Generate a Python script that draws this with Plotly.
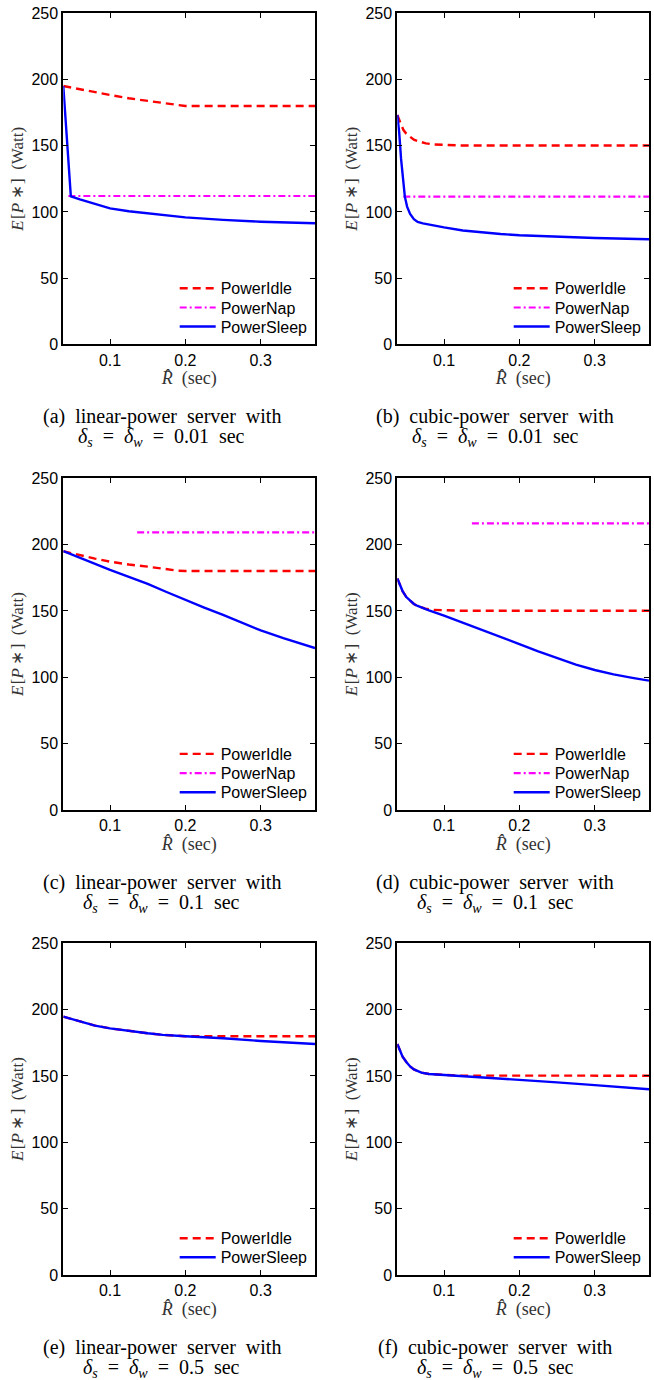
import plotly.graph_objects as go

# ---------------- data ----------------
# (a) linear-power, delta = 0.01 sec
a_idle_x = [0.038, 0.06, 0.08, 0.1, 0.125, 0.15, 0.17, 0.19, 0.2, 0.372]
a_idle_y = [195.1, 192.5, 190.2, 188.3, 185.8, 183.8, 182.0, 180.5, 180.0, 180.0]
a_nap_x = [0.0447, 0.372]
a_nap_y = [112.0, 112.0]
a_sleep_x = [0.038, 0.048, 0.06, 0.08, 0.1, 0.125, 0.15, 0.175, 0.2, 0.25, 0.3, 0.372]
a_sleep_y = [195.1, 111.8, 109.5, 106.0, 102.7, 100.5, 98.9, 97.2, 95.9, 94.0, 92.6, 91.4]

# (b) cubic-power, delta = 0.01 sec
b_idle_x = [0.038, 0.042, 0.046, 0.05, 0.055, 0.06, 0.068, 0.076, 0.086, 0.1, 0.12, 0.372]
b_idle_y = [173.2, 167.0, 162.0, 159.0, 156.5, 154.5, 153.0, 151.8, 151.0, 150.5, 150.2, 150.1]
b_nap_x = [0.046, 0.372]
b_nap_y = [111.5, 111.5]
b_sleep_x = [0.038, 0.0405, 0.043, 0.046, 0.048, 0.051, 0.055, 0.06, 0.065, 0.072, 0.085,
             0.1, 0.125, 0.15, 0.175, 0.2, 0.25, 0.3, 0.372]
b_sleep_y = [173.2, 160.0, 140.0, 120.0, 111.5, 104.0, 98.5, 94.5, 92.4, 91.3, 89.8,
             88.3, 86.0, 84.5, 83.3, 82.4, 81.2, 80.3, 79.3]

# (c) linear-power, delta = 0.1 sec
c_idle_x = [0.038, 0.06, 0.08, 0.1, 0.125, 0.15, 0.17, 0.19, 0.2, 0.372]
c_idle_y = [195.0, 192.0, 189.5, 187.2, 185.0, 183.4, 181.8, 180.4, 180.1, 180.1]
c_nap_x = [0.136, 0.372]
c_nap_y = [209.3, 209.3]
c_sleep_x = [0.038, 0.06, 0.08, 0.1, 0.125, 0.15, 0.175, 0.2, 0.225, 0.25, 0.275, 0.3, 0.33, 0.35, 0.372]
c_sleep_y = [195.2, 190.0, 185.5, 181.0, 175.7, 170.4, 164.3, 158.3, 152.6, 147.0, 141.0, 135.3, 129.5, 125.8, 122.0]

# (d) cubic-power, delta = 0.1 sec
d_idle_x = [0.038, 0.042, 0.045, 0.05, 0.055, 0.06, 0.065, 0.07, 0.075, 0.085, 0.1, 0.12, 0.372]
d_idle_y = [174.6, 169.0, 165.0, 160.5, 157.5, 155.3, 153.8, 152.6, 151.7, 150.9, 150.4, 150.2, 150.2]
d_nap_x = [0.137, 0.372]
d_nap_y = [216.1, 216.1]
d_sleep_x = [0.038, 0.042, 0.045, 0.05, 0.055, 0.06, 0.065, 0.07, 0.08, 0.1, 0.125, 0.15, 0.175,
             0.2, 0.225, 0.25, 0.275, 0.3, 0.325, 0.35, 0.372]
d_sleep_y = [174.6, 169.0, 165.0, 160.5, 157.5, 155.3, 153.8, 152.6, 150.5, 146.5, 141.0, 135.7, 130.4,
             125.1, 119.6, 114.3, 109.5, 105.5, 102.2, 99.6, 97.5]

# (e) linear-power, delta = 0.5 sec
e_idle_x = [0.038, 0.06, 0.08, 0.1, 0.125, 0.15, 0.17, 0.19, 0.2, 0.372]
e_idle_y = [194.7, 191.0, 188.0, 185.9, 183.8, 182.2, 181.0, 180.2, 180.0, 180.0]
e_sleep_x = [0.038, 0.06, 0.08, 0.1, 0.125, 0.15, 0.17, 0.19, 0.2, 0.25, 0.3, 0.372]
e_sleep_y = [194.7, 191.0, 188.0, 185.9, 183.8, 182.2, 181.0, 180.2, 179.9, 178.4, 176.4, 174.1]

# (f) cubic-power, delta = 0.5 sec
f_idle_x = [0.038, 0.042, 0.045, 0.05, 0.055, 0.06, 0.065, 0.07, 0.08, 0.1, 0.12, 0.372]
f_idle_y = [174.1, 168.5, 164.6, 160.5, 157.2, 155.0, 153.5, 152.5, 151.5, 150.8, 150.3, 150.2]
f_sleep_x = [0.038, 0.042, 0.045, 0.05, 0.055, 0.06, 0.065, 0.07, 0.08, 0.1, 0.15, 0.2, 0.25, 0.3, 0.372]
f_sleep_y = [174.1, 168.5, 164.6, 160.5, 157.2, 155.0, 153.5, 152.5, 151.5, 150.8, 148.8, 147.1, 145.2, 143.1, 140.0]

x_tick_vals = [0.1, 0.2, 0.3]
x_tick_text = ["0.1", "0.2", "0.3"]
y_tick_vals = [0, 50, 100, 150, 200, 250]
y_tick_text = ["0", "50", "100", "150", "200", "250"]

captions = [
    ("(a)", "linear-power", "0.01"),
    ("(b)", "cubic-power", "0.01"),
    ("(c)", "linear-power", "0.1"),
    ("(d)", "cubic-power", "0.1"),
    ("(e)", "linear-power", "0.5"),
    ("(f)", "cubic-power", "0.5"),
]

panels = [
    [("PowerIdle", a_idle_x, a_idle_y), ("PowerNap", a_nap_x, a_nap_y), ("PowerSleep", a_sleep_x, a_sleep_y)],
    [("PowerIdle", b_idle_x, b_idle_y), ("PowerNap", b_nap_x, b_nap_y), ("PowerSleep", b_sleep_x, b_sleep_y)],
    [("PowerIdle", c_idle_x, c_idle_y), ("PowerNap", c_nap_x, c_nap_y), ("PowerSleep", c_sleep_x, c_sleep_y)],
    [("PowerIdle", d_idle_x, d_idle_y), ("PowerNap", d_nap_x, d_nap_y), ("PowerSleep", d_sleep_x, d_sleep_y)],
    [("PowerIdle", e_idle_x, e_idle_y), ("PowerSleep", e_sleep_x, e_sleep_y)],
    [("PowerIdle", f_idle_x, f_idle_y), ("PowerSleep", f_sleep_x, f_sleep_y)],
]

# ---------------- styling ----------------
W, H = 654, 1380
styles = {
    "PowerIdle": dict(color="#ff0000", dash="8px,5px", width=2.4),
    "PowerNap": dict(color="#ff00ff", dash="7px,3px,2px,3px", width=2.2),
    "PowerSleep": dict(color="#0000ff", dash="solid", width=2.4),
}
plot_left = [63.3, 397.3]
plot_right = [315.0, 649.0]
row_top = [13.3, 478.3, 943.3]
row_bot = [344.3, 810.0, 1275.0]

SANS = "Liberation Sans, Arial, sans-serif"
SERIF = "Liberation Serif, Times New Roman, serif"
EN = "\u2002"
ITEMW = 36

fig = go.Figure()
layout = dict(
    width=W, height=H, margin=dict(l=0, r=0, t=0, b=0, autoexpand=False),
    paper_bgcolor="white", plot_bgcolor="white", showlegend=True,
)
annotations = []
legend_count = 0

for p, series in enumerate(panels):
    row, col = divmod(p, 2)
    idx = "" if p == 0 else str(p + 1)
    x0, x1 = plot_left[col] / W, plot_right[col] / W
    y0, y1 = 1 - row_bot[row] / H, 1 - row_top[row] / H
    axis_common = dict(
        showline=True, linecolor="black", linewidth=2, mirror="allticks",
        ticks="inside", ticklen=5, tickwidth=1, tickcolor="black",
        showgrid=False, zeroline=False, automargin=False,
        tickfont=dict(family=SANS, size=16, color="black"),
    )
    layout["xaxis" + idx] = dict(
        axis_common, domain=[x0, x1], range=[0.038, 0.372], anchor="y" + idx,
        tickvals=x_tick_vals, ticktext=x_tick_text,
        title=dict(text="<i>R̂</i>\u00a0\u00a0(sec)", font=dict(family=SERIF, size=18, color="#333"), standoff=1),
    )
    layout["yaxis" + idx] = dict(
        axis_common, domain=[y0, y1], range=[0, 250], anchor="x" + idx,
        tickvals=y_tick_vals, ticktext=y_tick_text,
        title=dict(text="<i>E</i>\u200a[<i>P</i>\u2009∗\u200a]\u00a0\u00a0(Watt)",
                   font=dict(family=SERIF, size=17, color="#333"), standoff=3),
    )
    n = len(series)
    for k, (name, xs, ys) in enumerate(series):
        legend_count += 1
        lid = "legend" if legend_count == 1 else "legend%d" % legend_count
        st = styles[name]
        fig.add_trace(go.Scatter(
            x=xs, y=ys, mode="lines", name=name,
            line=dict(color=st["color"], dash=st["dash"], width=st["width"]),
            xaxis="x" + idx, yaxis="y" + idx, legend=lid, hoverinfo="skip",
        ))
        offs = [56.0, 36.7, 17.7][3 - n + k]
        cy = row_bot[row] - offs
        text_start = plot_right[col] - 94.3
        layout[lid] = dict(
            x=(text_start - ITEMW - 10) / W, xanchor="left",
            y=1 - cy / H, yanchor="middle", itemwidth=ITEMW,
            bgcolor="rgba(0,0,0,0)", borderwidth=0,
            font=dict(family=SANS, size=16, color="black"),
            itemclick=False, itemdoubleclick=False,
        )
    lab, kind, d = captions[p]
    cx = [161.5, 495.0][col]
    annotations.append(dict(
        x=cx / W, y=1 - (row_bot[row] + 72.0) / H, xref="paper", yref="paper",
        text=lab + EN + kind + EN + "server" + EN + "with", showarrow=False,
        xanchor="center", yanchor="middle",
        font=dict(family=SERIF, size=20, color="black"),
    ))
    annotations.append(dict(
        x=cx / W, y=1 - (row_bot[row] + 93.0) / H, xref="paper", yref="paper",
        text="<i>δ</i><sub><i>s</i></sub>" + EN + "=" + EN + "<i>δ</i><sub><i>w</i></sub>" + EN + "="
             + EN + d + EN + "sec",
        showarrow=False, xanchor="center", yanchor="middle",
        font=dict(family=SERIF, size=20, color="black"),
    ))

layout["annotations"] = annotations
fig.update_layout(**layout)
fig.write_html(
    "out.html",
    config={"displayModeBar": False, "staticPlot": True},
    post_script="document.body.style.margin='0';document.body.style.padding='0';"
                "document.body.style.overflow='hidden';",
)
